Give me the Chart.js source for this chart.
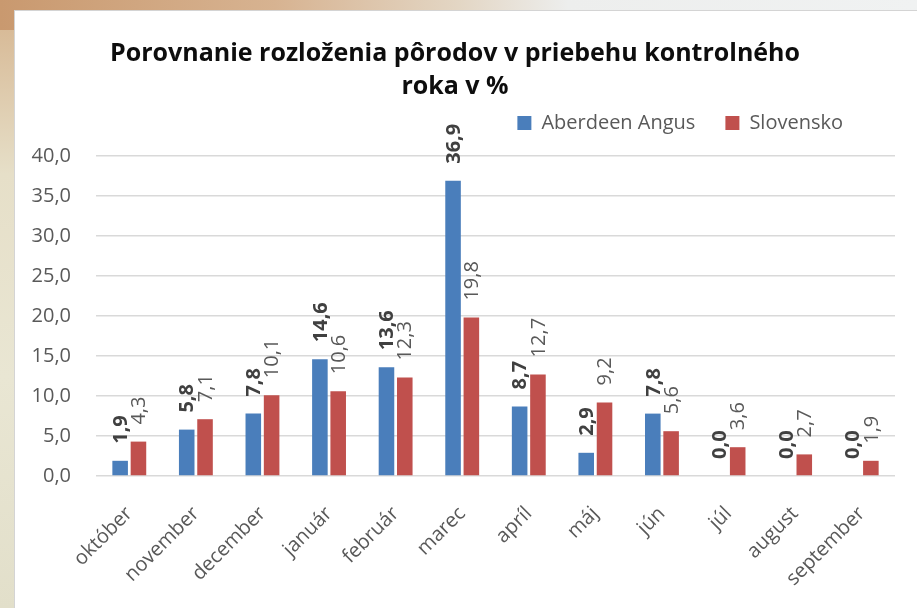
<!DOCTYPE html>
<html>
<head>
<meta charset="utf-8">
<script src="https://cdn.jsdelivr.net/npm/chart.js@4.4.0/dist/chart.umd.min.js"></script>
<style>
  html, body { margin: 0; padding: 0; }
  body {
    width: 917px; height: 608px; overflow: hidden; position: relative;
    background: linear-gradient(90deg, #c9996f 0%, #d7b391 30%, #e3d6c4 50%, #edeeed 62%, #f0f2f2 100%);
  }
  #leftStrip {
    position: absolute; left: 0; top: 30px; width: 14px; height: 578px;
    background: linear-gradient(180deg, #d8bb98 0%, #e6dfc8 25%, #e9e6d3 60%, #e2dfca 100%);
  }
  #panel {
    position: absolute; left: 14px; top: 10px; width: 902px; height: 597px;
    background: #fff; border-left: 1px solid #d4d4d4; border-top: 1px solid #d4d4d4;
  }
  canvas { display: block; }
</style>
</head>
<body>
<div id="leftStrip"></div>
<div id="panel"><canvas id="birthsChart" width="902" height="597"></canvas></div>
<script>
// Chart values
const months = ['október', 'november', 'december', 'január', 'február', 'marec',
                'apríl', 'máj', 'jún', 'júl', 'august', 'september'];
const angusValues = [1.9, 5.8, 7.8, 14.6, 13.6, 36.9, 8.7, 2.9, 7.8, 0.0, 0.0, 0.0];
const slovakValues = [4.3, 7.1, 10.1, 10.6, 12.3, 19.8, 12.7, 9.2, 5.6, 3.6, 2.7, 1.9];
const yTicks = [0, 5, 10, 15, 20, 25, 30, 35, 40];

const FONT = "'Open Sans', 'DejaVu Sans', sans-serif";
const GREY = '#595959';

// number like Excel with decimal comma
function fmt(v) {
  return Number(v).toFixed(1).replace('.', ',');
}

// rotated value labels above each bar
const valueLabels = {
  id: 'valueLabels',
  afterDatasetsDraw(chart) {
    const ctx = chart.ctx;
    chart.data.datasets.forEach((ds, i) => {
      const meta = chart.getDatasetMeta(i);
      meta.data.forEach((bar, j) => {
        ctx.save();
        ctx.translate(bar.x, bar.y - 17);
        ctx.rotate(-Math.PI / 2);
        ctx.font = (i === 0 ? 'bold ' : '') + '20px ' + FONT;
        ctx.fillStyle = i === 0 ? '#404040' : GREY;
        ctx.textAlign = 'left';
        ctx.textBaseline = 'middle';
        ctx.fillText(fmt(ds.data[j]), 0, 1);
        ctx.restore();
      });
    });
  }
};

// move title and legend to the spots they have in the picture
const boxPlace = {
  id: 'boxPlace',
  afterLayout(chart) {
    const t = chart.titleBlock;
    t.top += 7;
    t.bottom += 7;
    const lg = chart.legend;
    const h = lg.bottom - lg.top;
    lg.top = 72;
    lg.bottom = lg.top + h;
    lg.left -= 22;
    lg.right -= 22;
  }
};

const ctx = document.getElementById('birthsChart').getContext('2d');
new Chart(ctx, {
  type: 'bar',
  data: {
    labels: months,
    datasets: [
      {
        label: 'Aberdeen Angus',
        data: angusValues,
        backgroundColor: '#4a7ebb'
      },
      {
        label: 'Slovensko',
        data: slovakValues,
        backgroundColor: '#c0504d'
      }
    ]
  },
  options: {
    responsive: false,
    animation: false,
    layout: { padding: { left: 0, right: 22, top: 0, bottom: 0 } },
    datasets: {
      bar: { categoryPercentage: 0.55, barPercentage: 0.85 }
    },
    plugins: {
      title: {
        display: true,
        text: ['Porovnanie rozloženia pôrodov v priebehu kontrolného', 'roka v %'],
        color: '#0d0d0d',
        font: { family: FONT, size: 25, weight: 'bold', lineHeight: '33px' },
        padding: { top: 19, bottom: 0 }
      },
      legend: {
        position: 'top',
        align: 'end',
        labels: {
          color: GREY,
          font: { family: FONT, size: 20 },
          boxWidth: 14,
          boxHeight: 14,
          padding: 30
        }
      },
      tooltip: { enabled: false }
    },
    scales: {
      x: {
        grid: { display: false },
        border: { display: false },
        ticks: {
          color: GREY,
          font: { family: FONT, size: 20 },
          maxRotation: 45,
          minRotation: 45,
          padding: 18
        },
        afterFit(scale) { scale.height = 132; }
      },
      y: {
        min: 0,
        max: 40,
        grid: { color: '#d9d9d9', lineWidth: 1.5, drawTicks: false },
        border: { display: false },
        afterBuildTicks(scale) {
          scale.ticks = yTicks.map(v => ({ value: v }));
        },
        ticks: {
          color: GREY,
          font: { family: FONT, size: 20 },
          padding: 25,
          callback: v => fmt(v)
        },
        afterFit(scale) { scale.width = 81; }
      }
    }
  },
  plugins: [valueLabels, boxPlace]
});
</script>
</body>
</html>
